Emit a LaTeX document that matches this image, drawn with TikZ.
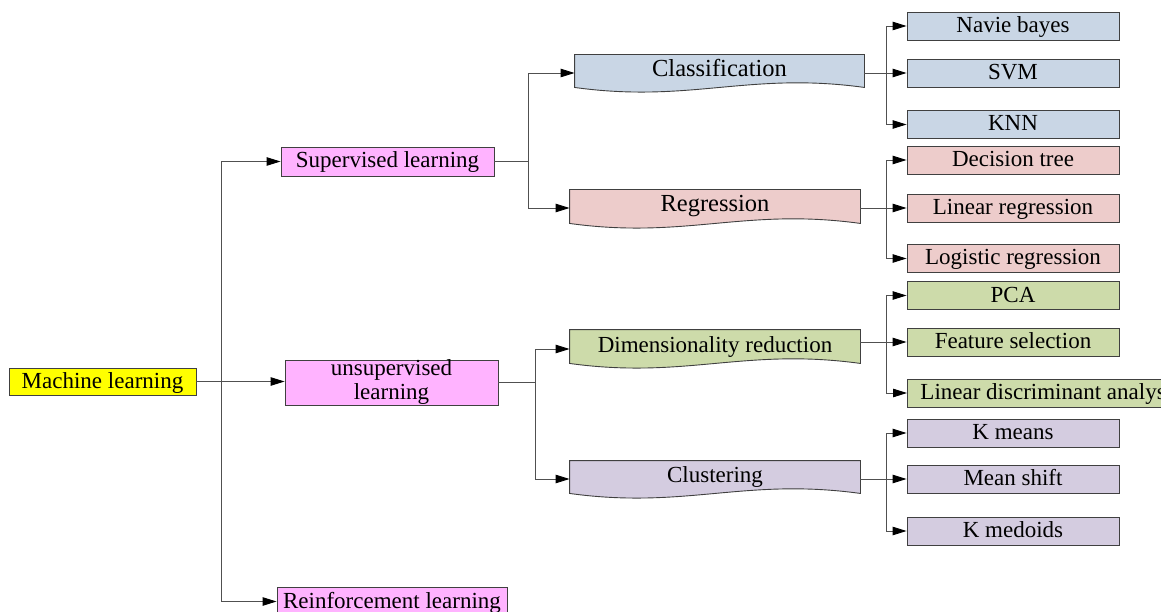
\documentclass[tikz,border=0pt]{standalone}
\usepackage{fontspec}
\setmainfont{Liberation Serif}
\usetikzlibrary{arrows.meta,calc,backgrounds}

\definecolor{mlyellow}{HTML}{FFFF00}
\definecolor{grouppink}{HTML}{FFB3FF}
\definecolor{clsblue}{HTML}{C9D6E5}
\definecolor{regred}{HTML}{EDCCCB}
\definecolor{dimgreen}{HTML}{CDDBAA}
\definecolor{clupurple}{HTML}{D4CCE0}
\definecolor{edgegray}{HTML}{404040}
\definecolor{linkgray}{HTML}{505050}

\tikzset{
  base/.style={font=\fontsize{23}{25}\selectfont, text height=17pt, text depth=4pt,
    inner sep=0pt, draw=edgegray, line width=0.9pt, align=center},
  group/.style={base, fill=grouppink, minimum width=213pt, minimum height=29pt},
  wavebox/.style={base, draw=none, minimum height=33pt, text height=16pt, text depth=5pt},
  leaf/.style={base, minimum width=212pt, minimum height=28pt},
  link/.style={draw=linkgray, line width=0.9pt},
  arr/.style={link, -{Triangle[length=14pt,width=8.5pt,color=black]}}
}

% rectangle with a wavy lower edge, drawn behind the named node
\newcommand\wavyoutline[2]{%
  \path[draw=edgegray, line width=0.9pt, fill=#2]
    (#1.north west) -- (#1.north east) -- (#1.south east)
    .. controls ($(#1.south east)!0.4!(#1.south west)+(0,-16)$)
            and ($(#1.south east)!0.6!(#1.south west)+(0,16)$) .. (#1.south west)
    -- cycle;}

\begin{document}
\begin{tikzpicture}[x=1pt,y=-1pt]
  \useasboundingbox (0,0) rectangle (1161,612);
  \clip (0,0) rectangle (1161,612);

  % root and first level
  \node[base, fill=mlyellow, minimum width=187pt, minimum height=27pt] (ml) at (102.5,381.5) {Machine learning};
  \node[group] (sup) at (387.5,161.5) {Supervised learning};
  \node[group, minimum height=45pt, text height=, text depth=, font=\fontsize{23}{24}\selectfont] (unsup) at (391.5,382.5) {unsupervised\\learning};
  \node[group, minimum width=230pt] (rl) at (392,601.5) {Reinforcement learning};

  % second level
  \node[wavebox, minimum width=289pt, minimum height=32pt, font=\fontsize{24.5}{26}\selectfont] (cls) at (719.5,71) {Classification};
  \node[wavebox, minimum width=290pt, font=\fontsize{24.5}{26}\selectfont] (reg) at (715,206.5) {Regression};
  \node[wavebox, minimum width=290pt] (dim) at (715,346.5) {Dimensionality reduction};
  \node[wavebox, minimum width=290pt, minimum height=32pt] (clu) at (715,477) {Clustering};
  \begin{pgfonlayer}{background}
    \wavyoutline{cls}{clsblue}
    \wavyoutline{reg}{regred}
    \wavyoutline{dim}{dimgreen}
    \wavyoutline{clu}{clupurple}
  \end{pgfonlayer}

  % leaves
  \node[leaf, fill=clsblue] (nb)  at (1013,26)    {Navie bayes};
  \node[leaf, fill=clsblue] (svm) at (1013,73)    {SVM};
  \node[leaf, fill=clsblue] (knn) at (1013,124.5) {KNN};
  \node[leaf, fill=regred] (dt)   at (1013,160)   {Decision tree};
  \node[leaf, fill=regred] (lr)   at (1013,208)   {Linear regression};
  \node[leaf, fill=regred] (logr) at (1013,258.5) {Logistic regression};
  \node[leaf, fill=dimgreen] (pca) at (1013,295.5) {PCA};
  \node[leaf, fill=dimgreen] (fs)  at (1013,342)   {Feature selection};
  \node[leaf, fill=dimgreen, anchor=west, inner xsep=13pt] (lda) at (907,393) {Linear discriminant analysis};
  \node[leaf, fill=clupurple] (km)   at (1013,433)   {K means};
  \node[leaf, fill=clupurple] (ms)   at (1013,479)   {Mean shift};
  \node[leaf, fill=clupurple] (kmed) at (1013,531)   {K medoids};

  % junction columns
  \coordinate (tr) at (221.5,381.5);
  \coordinate (j1) at (528,0);
  \coordinate (j2) at (535,0);
  \coordinate (j3) at (886,0);

  % root connectors
  \draw[arr] (ml.east) -- (ml.east -| unsup.west);
  \draw[arr] (tr) |- (sup);
  \draw[arr] (tr) |- (rl);

  % supervised branch
  \draw[link] (sup.east) -- (sup.east -| j1);
  \draw[arr] (sup.east -| j1) |- ([yshift=-2pt]cls.west);
  \draw[arr] (sup.east -| j1) |- ([yshift=-1.5pt]reg.west);

  % unsupervised branch
  \draw[link] (unsup.east) -- (unsup.east -| j2);
  \draw[arr] (unsup.east -| j2) |- ([yshift=-2.5pt]dim.west);
  \draw[arr] (unsup.east -| j2) |- ([yshift=-2pt]clu.west);

  % classification leaves
  \draw[arr] ([yshift=-2pt]cls.east) -- (svm.west);
  \draw[arr] (j3 |- svm.west) |- (nb);
  \draw[arr] (j3 |- svm.west) |- (knn);

  % regression leaves
  \draw[arr] ([yshift=-1.5pt]reg.east) -- (lr.west);
  \draw[arr] (j3 |- lr.west) |- (dt);
  \draw[arr] (j3 |- lr.west) |- (logr);

  % dimensionality reduction leaves
  \draw[arr] ([yshift=4.5pt]dim.east) -- (fs.west);
  \draw[arr] (j3 |- fs.west) |- (pca);
  \draw[arr] (j3 |- fs.west) |- (lda);

  % clustering leaves
  \draw[arr] ([yshift=-2pt]clu.east) -- (ms.west);
  \draw[arr] (j3 |- ms.west) |- (km);
  \draw[arr] (j3 |- ms.west) |- (kmed);
\end{tikzpicture}
\end{document}
